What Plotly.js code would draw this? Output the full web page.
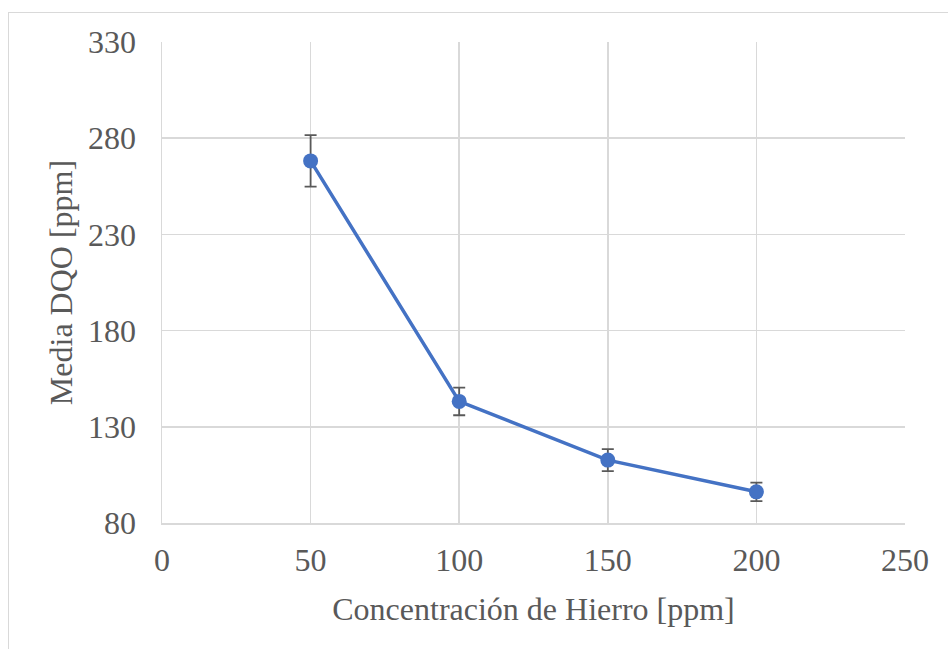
<!DOCTYPE html>
<html>
<head>
<meta charset="utf-8">
<script src="https://cdn.plot.ly/plotly-3.0.1.min.js"></script>
<style>
html,body{margin:0;padding:0;background:#fff;overflow:hidden;}
#frame{position:absolute;left:8px;top:12px;width:960px;height:660px;border:1.5px solid #d9d9d9;box-sizing:border-box;}
#chart{position:absolute;left:0;top:0;width:948px;height:649px;}
</style>
</head>
<body>
<div id="frame"></div>
<div id="chart"></div>
<script>
const hierro = [50, 100, 150, 200];
const mediaDQO = [268.2, 143.2, 112.7, 96.2];
const errorDQO = [13.4, 7.2, 5.7, 4.8];
const xTicks = [0, 50, 100, 150, 200, 250];
const yTicks = [80, 130, 180, 230, 280, 330];

const font = {family: '"Liberation Serif", "Times New Roman", serif', size: 32, color: '#595959'};

const trace = {
  x: hierro, y: mediaDQO, type: 'scatter', mode: 'lines+markers',
  line: {color: '#4472C4', width: 3.5},
  marker: {color: '#4472C4', size: 15},
  error_y: {type: 'data', array: errorDQO, visible: true, color: '#595959', thickness: 1.8, width: 6}
};

const layout = {
  width: 948, height: 649,
  margin: {l: 162, r: 43, t: 42, b: 126},
  paper_bgcolor: 'rgba(0,0,0,0)', plot_bgcolor: 'rgba(0,0,0,0)',
  font: font,
  showlegend: false,
  xaxis: {
    range: [0, 250], tickvals: xTicks, ticktext: xTicks.map(String),
    showgrid: true, gridcolor: '#d9d9d9', gridwidth: 1.5,
    zeroline: false, showline: true, linecolor: '#d9d9d9', linewidth: 1.5, mirror: false,
    ticks: '', ticklen: 0, tickfont: font, ticklabelstandoff: 8,
    title: {text: 'Concentración de Hierro [ppm]', font: font, standoff: 20}
  },
  yaxis: {
    range: [80, 330], tickvals: yTicks, ticktext: yTicks.map(String),
    showgrid: true, gridcolor: '#d9d9d9', gridwidth: 1.5,
    zeroline: false, showline: true, linecolor: '#d9d9d9', linewidth: 1.5,
    ticks: '', tickfont: font, ticklabelstandoff: 18,
    title: {text: 'Media DQO [ppm]', font: font, standoff: 6}
  }
};

Plotly.newPlot('chart', [trace], layout, {displayModeBar: false, staticPlot: true});
</script>
</body>
</html>
